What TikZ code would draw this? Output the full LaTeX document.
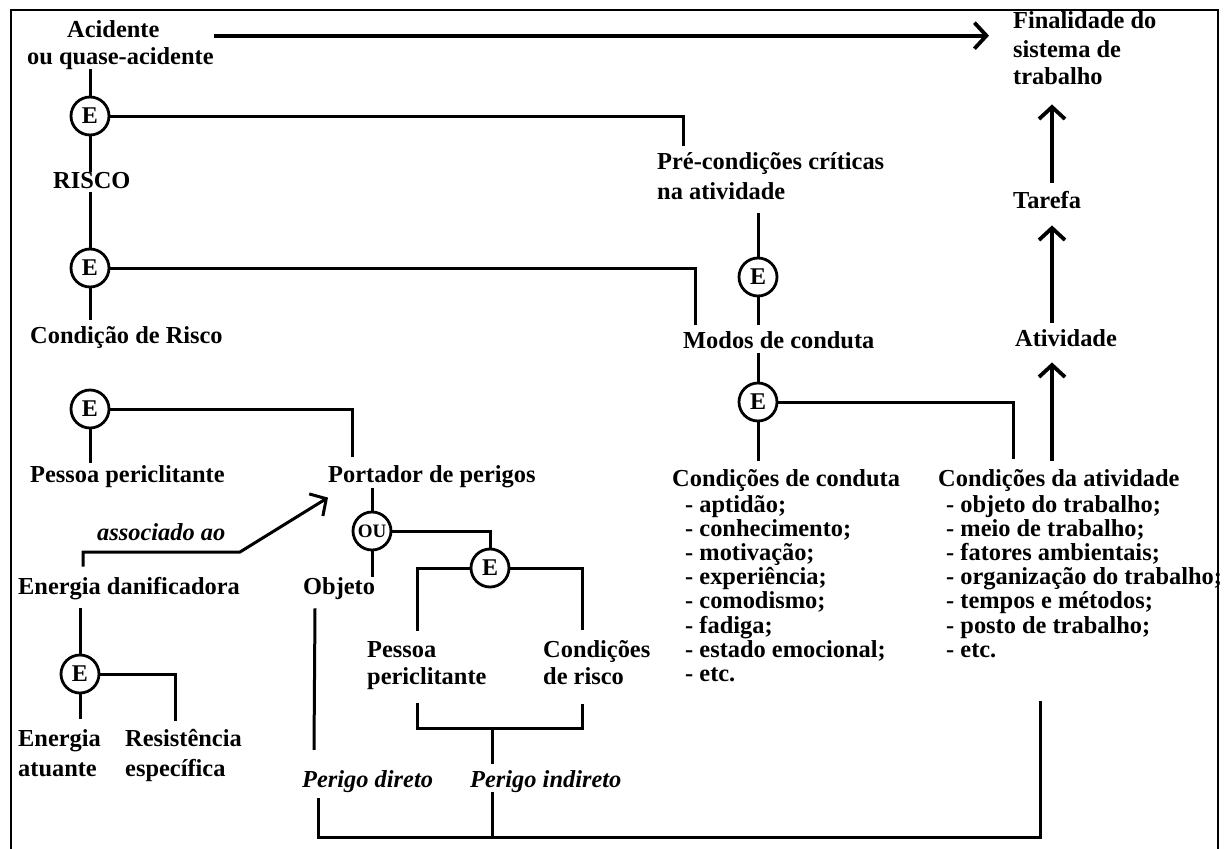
\documentclass[tikz,border=0pt]{standalone}
\usepackage{fontspec}
\setmainfont{Liberation Serif}
\usetikzlibrary{arrows.meta,calc}
\begin{document}
\begin{tikzpicture}[x=1pt,y=-1pt,
  txt/.style={anchor=base west, inner sep=0pt, font=\fontsize{24.4}{26}\selectfont\bfseries},
  itx/.style={txt, font=\fontsize{24.4}{26}\selectfont\bfseries\itshape},
  gate/.style={circle, draw, line width=2.8pt, minimum size=38pt, inner sep=0pt,
               font=\fontsize{24}{24}\selectfont\bfseries},
  link/.style={line width=3pt},
  flow/.style={line width=3.8pt, -{Straight Barb[length=12pt,width=26pt]}},
  flowthin/.style={line width=3pt, -{Straight Barb[length=12pt,width=26pt]}},
]
\useasboundingbox (0,0) rectangle (1224,849);
% open frame
\draw[line width=2.2pt] (11,849) -- (11,10) -- (1218,10) -- (1218,849);

% ---- left column
\node[txt] (acid) at (67,37) {Acidente};
\node[txt] (oqa) at (27,64) {ou quase-acidente};
\node[gate] (e1) at (90,116) {E};
\node[txt] (risco) at (53,188) {RISCO};
\node[gate] (e2) at (90,268) {E};
\node[txt] (condrisco) at (30,343) {Condição de Risco};
\node[gate] (e5) at (90,409) {E};
\node[txt] (pessoa) at (30,482) {Pessoa periclitante};
\node[itx] (assoc) at (97,540) {associado ao};
\node[txt] (energia) at (18,594) {Energia danificadora};
\node[gate] (e7) at (80,674) {E};
\node[txt] (ea1) at (18,746) {Energia};
\node[txt] (ea2) at (18,776) {atuante};
\node[txt] (re1) at (125,746) {Resistência};
\node[txt] (re2) at (125,776) {específica};

% ---- hazard carrier
\node[txt] (portador) at (328,482) {Portador de perigos};
\node[gate, font=\fontsize{19}{19}\selectfont\bfseries] (ou) at (372,531) {OU};
\node[txt] (objeto) at (303,594) {Objeto};
\node[gate] (e6) at (490,568) {E};
\node[txt] (pes1) at (367,657) {Pessoa};
\node[txt] (pes2) at (367,684) {periclitante};
\node[txt] (cr1) at (543,657) {Condições};
\node[txt] (cr2) at (543,684) {de risco};
\node[itx] (pdir) at (302,787) {Perigo direto};
\node[itx] (pind) at (470,787) {Perigo indireto};

% ---- middle column
\node[txt] (pre1) at (657,169) {Pré-condições críticas};
\node[txt] (pre2) at (657,199) {na atividade};
\node[gate] (e3) at (758,277) {E};
\node[txt] (modos) at (683,348) {Modos de conduta};
\node[gate] (e4) at (758,402) {E};
\node[txt] (cc) at (672,486) {Condições de conduta};
\foreach \t [count=\i from 0] in {aptidão;,conhecimento;,motivação;,experiência;,comodismo;,fadiga;,estado emocional;,etc.}
  \node[txt] (cc\i) at (685,512+24.2*\i) {- \t};

% ---- right column
\node[txt] (fin1) at (1013,28) {Finalidade do};
\node[txt] (fin2) at (1013,57) {sistema de};
\node[txt] (fin3) at (1013,84) {trabalho};
\node[txt] (tarefa) at (1013,208) {Tarefa};
\node[txt] (ativ) at (1015,346) {Atividade};
\node[txt] (ca) at (938,486) {Condições da atividade};
\foreach \t [count=\i from 0] in {objeto do trabalho;,meio de trabalho;,fatores ambientais;,organização do trabalho;,tempos e métodos;,posto de trabalho;,etc.}
  \node[txt] (ca\i) at (946,512+24.2*\i) {- \t};

% bend points
\coordinate (rx) at (1052,0);
\coordinate (assocbend) at (240,552);
\coordinate (brk) at (492,728);
\coordinate (floorR) at (1040,837);

% ---- connectors, left column
\draw[link] (oqa.south -| e1) -- (e1.north);
\draw[link] (e1.south) -- (risco.north -| e1);
\draw[link] ($(risco.south -| e2)+(0,4)$) -- (e2.north);
\draw[link] (e2.south) -- ($(condrisco.north -| e2)+(0,-6)$);
\draw[link] (e1.east) -| ($(pre1.north west)+(26,-6)$);
\draw[link] (e2.east) -| ($(modos.north west)+(12,-6)$);
\draw[link] (e5.east) -| ($(portador.north west)+(24,-8)$);
\draw[link] (e5.south) -- ($(pessoa.north -| e5)+(0,-2)$);
\draw[flowthin] ($(energia.north west)+(65,-10)$) |- (assocbend) -- ($(portador.south west)+(0,10)$);
\draw[link] ($(energia.south -| e7)+(0,8)$) -- (e7.north);
\draw[link] (e7.east) -| ($(re1.north west)+(50,-8)$);
\draw[link] (e7.south) -- ($(ea1.north -| e7)+(0,-10)$);

% ---- connectors, hazard carrier
\draw[link] (portador.south -| ou) -- (ou.north);
\draw[link] (ou.east) -| (e6.north);
\draw[link] (ou.south) -- (objeto.north -| ou);
\draw[link] (e6.west) -| ($(pes1.north west)+(50,-10)$);
\draw[link] (e6.east) -| ($(cr1.north west)+(39,-10)$);
\draw[link] ($(pes2.south west)+(50,14)$) |- (brk) -| ($(cr2.south west)+(39,20)$);
\draw[link] (brk) -- ($(pind.north -| brk)+(0,-6)$);
\draw[link] ($(objeto.south west)+(12,9)$) -- ($(pdir.north west)+(12,-20)$);
\draw[link] (pind.south -| brk) -- (brk |- floorR);
\draw[link] ($(ca6.south -| floorR)+(0,43)$) -- (floorR) -| ($(pdir.south west)+(16,6)$);

% ---- connectors, middle column
\draw[link] ($(pre2.south -| e3)+(0,14)$) -- (e3.north);
\draw[link] (e3.south) -- ($(modos.north -| e3)+(0,-6)$);
\draw[link] ($(modos.south -| e4)+(0,4)$) -- (e4.north);
\draw[link] (e4.south) -- ($(cc.north -| e4)+(0,-8)$);
\draw[link] (e4.east) -| ($(ca.north west)+(75,-10)$);

% ---- arrows toward the purpose of the work system
\draw[flow] ($(acid.east -| oqa.east)+(0,7)$) -- ($(acid.east -| fin1.west)+(-24,7)$);
\draw[flow] ($(ca.north -| rx)+(0,-8)$) -- ($(ativ.south -| rx)+(0,16)$);
\draw[flow] ($(ativ.north -| rx)+(0,-6)$) -- ($(tarefa.south -| rx)+(0,17)$);
\draw[flow] ($(tarefa.north -| rx)+(0,-8)$) -- ($(fin3.south -| rx)+(0,20)$);
\end{tikzpicture}
\end{document}
